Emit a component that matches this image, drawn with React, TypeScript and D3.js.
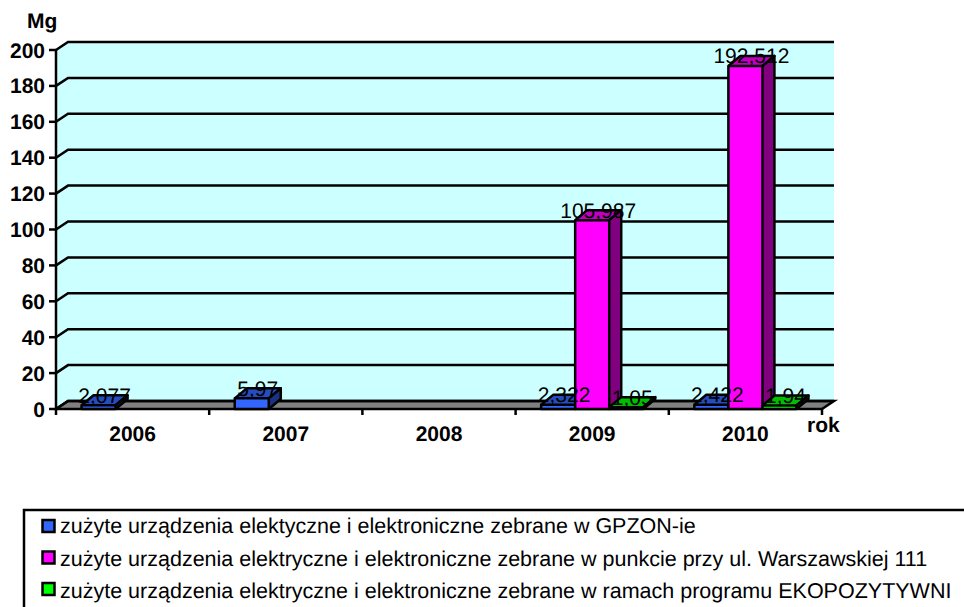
import * as React from "react";
import * as d3 from "d3";

const years = ["2006", "2007", "2008", "2009", "2010"];
const yTicks = [0, 20, 40, 60, 80, 100, 120, 140, 160, 180, 200];

const blueValues = [2.077, 5.97, null, 2.322, 2.422];
const pinkValues = [null, null, null, 105.987, 192.512];
const greenValues = [null, null, null, 1.05, 1.94];

const legendLabels = [
  "zużyte urządzenia elektyczne i elektroniczne zebrane w GPZON-ie",
  "zużyte urządzenia elektryczne i elektroniczne zebrane w punkcie przy ul. Warszawskiej 111",
  "zużyte urządzenia elektryczne i elektroniczne zebrane w ramach programu EKOPOZYTYWNI",
];

const seriesValues = [blueValues, pinkValues, greenValues];
const frontColors = ["#3366ff", "#ff00ff", "#00ff00"];
const topColors = ["#264dbf", "#bf00bf", "#00bf00"];
const sideColors = ["#1a3380", "#800080", "#008000"];

const font = "'Liberation Sans', Arial, sans-serif";

// plot geometry
const left = 56;
const right = 822;
const top = 50;
const bottom = 409;
const depthX = 12;
const depthY = -8;
const barDepthY = -10;
const lineW = 2.5;

const y = d3.scaleLinear().domain([0, 200]).range([bottom, top]);
// bars sit slightly further forward than the walls
const barY = d3.scaleLinear().domain([0, 200]).range([bottom, 52.6]);
const x = d3.scaleBand().domain(years).range([left, right]);
const xInner = d3
  .scaleBand<number>()
  .domain([0, 1, 2])
  .range([0, x.bandwidth()])
  .paddingInner(0)
  .paddingOuter(0.75);

const poly = d3.line();

const Bar = ({ year, s, value }: { year: string; s: number; value: number }) => {
  const x0 = (x(year) as number) + (xInner(s) as number);
  const x1 = x0 + xInner.bandwidth();
  const y1 = barY(value);
  const common = { stroke: "#000", strokeWidth: lineW, strokeLinejoin: "round" as const };
  return (
    <g>
      <path
        d={poly([[x0, y1], [x0 + depthX, y1 + barDepthY], [x1 + depthX, y1 + barDepthY], [x1, y1]]) as string}
        fill={topColors[s]}
        {...common}
      />
      <path
        d={poly([[x1, y1], [x1 + depthX, y1 + barDepthY], [x1 + depthX, bottom + barDepthY], [x1, bottom]]) as string}
        fill={sideColors[s]}
        {...common}
      />
      <rect x={x0} y={y1} width={x1 - x0} height={bottom - y1} fill={frontColors[s]} {...common} />
    </g>
  );
};

export default function App() {
  const boxes = years.flatMap((year, i) =>
    seriesValues.map((vals, s) => ({ year, s, value: vals[i] })).filter((d) => d.value !== null)
  ) as { year: string; s: number; value: number }[];

  const backTop = y(200) + depthY;

  return (
    <svg
      width={964}
      height={607}
      style={{ position: "absolute", left: 0, top: 0, background: "#fff" }}
      fontFamily={font}
      textRendering="geometricPrecision"
    >
      {/* walls */}
      <path
        d={poly([[left, top], [left + depthX, backTop], [right + depthX, backTop], [right + depthX, bottom + depthY], [right, bottom], [left, bottom]]) as string}
        fill="#ccffff"
      />
      {/* floor */}
      <path
        d={poly([[left, bottom], [left + depthX, bottom + depthY], [right + depthX, bottom + depthY], [right, bottom]]) as string}
        fill="#808080"
        stroke="#000"
        strokeWidth={lineW}
      />
      {/* gridlines */}
      {yTicks.map((t) => (
        <path
          key={t}
          d={poly([[left, y(t)], [left + depthX, y(t) + depthY], [right + depthX, y(t) + depthY]]) as string}
          fill="none"
          stroke="#000"
          strokeWidth={lineW}
        />
      ))}
      {/* axes */}
      <line x1={left} x2={left} y1={top} y2={bottom + 6} stroke="#000" strokeWidth={lineW} />
      <line x1={left} x2={right} y1={bottom} y2={bottom} stroke="#000" strokeWidth={lineW} />
      {yTicks.map((t) => (
        <g key={t}>
          <line x1={left - 7} x2={left} y1={y(t)} y2={y(t)} stroke="#000" strokeWidth={lineW} />
          <text x={45} y={y(t) + 7.5} textAnchor="end" fontSize={21} fontWeight="bold">
            {t}
          </text>
        </g>
      ))}
      {years.map((year) => (
        <g key={year}>
          <line x1={(x(year) as number) + x.bandwidth()} x2={(x(year) as number) + x.bandwidth()} y1={bottom} y2={bottom + 6} stroke="#000" strokeWidth={lineW} />
          <text x={(x(year) as number) + x.bandwidth() / 2} y={441} textAnchor="middle" fontSize={21} fontWeight="bold">
            {year}
          </text>
        </g>
      ))}
      <text x={27} y={28} fontSize={21} fontWeight="bold">Mg</text>
      <text x={807} y={432} fontSize={21} fontWeight="bold">rok</text>

      {/* bars */}
      {boxes.map((d) => (
        <Bar key={d.year + d.s} {...d} />
      ))}
      {boxes.map((d) => (
        <text
          key={d.year + d.s}
          x={(x(d.year) as number) + (xInner(d.s) as number) + xInner.bandwidth() / 2 + 6}
          y={barY(d.value) - 2.5}
          textAnchor="middle"
          fontSize={21}
        >
          {String(d.value).replace(".", ",")}
        </text>
      ))}

      {/* legend */}
      <path d="M964,510H24V607" fill="none" stroke="#000" strokeWidth={lineW} />
      {legendLabels.map((label, i) => (
        <g key={label}>
          <rect x={42.5} y={520 + i * 31.5} width={12} height={12} fill={frontColors[i]} stroke="#000" strokeWidth={lineW} />
          <text x={60} y={533 + i * 32.5} fontSize={21.5}>
            {label}
          </text>
        </g>
      ))}
    </svg>
  );
}
